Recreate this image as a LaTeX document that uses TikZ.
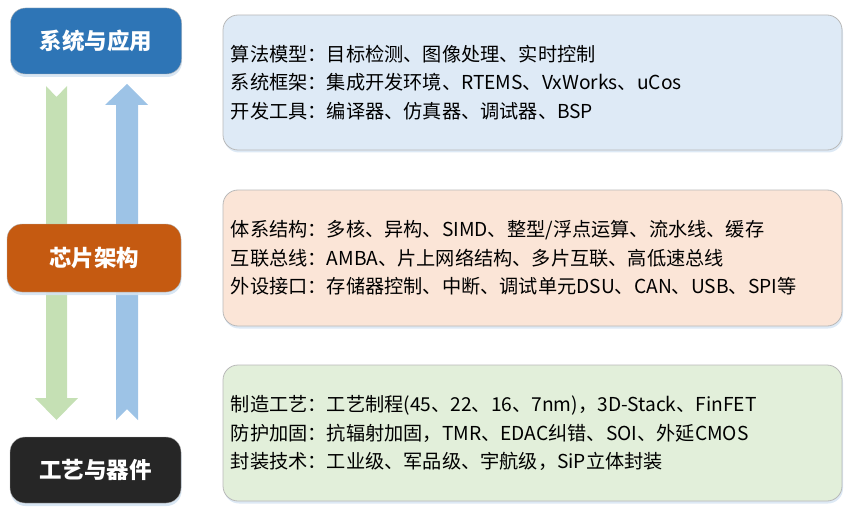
\documentclass[tikz,border=0pt]{standalone}
\usepackage{fontspec}
\newfontfamily\cjk{Noto Sans CJK SC}
\usetikzlibrary{shadows}
\definecolor{sysblue}{HTML}{2E75B6}
\definecolor{chiporange}{HTML}{C55A11}
\definecolor{procblack}{HTML}{262626}
\definecolor{arrowgreen}{HTML}{C5E0B4}
\definecolor{arrowblue}{HTML}{9DC3E6}
\definecolor{panelblue}{HTML}{DEEAF6}
\definecolor{panelorange}{HTML}{FBE5D7}
\definecolor{panelgreen}{HTML}{E2EFDA}
\definecolor{shadowblue}{HTML}{D4E3F2}
\tikzset{
  layer/.style={rectangle,rounded corners=15pt,minimum width=171pt,minimum height=66pt,text=white,
    font=\cjk\bfseries\fontsize{22.5}{26}\selectfont,draw=gray!60,line width=0.4pt,
    drop shadow={fill=shadowblue,opacity=0.9,shadow xshift=0.5pt,shadow yshift=-3pt}},
  panel/.style={rectangle,rounded corners=15pt,minimum width=619pt,minimum height=136pt,draw=gray!55,line width=0.8pt,
    drop shadow={fill=shadowblue,opacity=0.8,shadow xshift=1pt,shadow yshift=-2.5pt}},
  info/.style={anchor=west,align=left,inner sep=0pt,font=\cjk\fontsize{19.2}{28.3}\selectfont}
}
\begin{document}
\begin{tikzpicture}[x=1pt,y=-1pt]
    \useasboundingbox (0,0) rectangle (861,513);
    % arrows
    \fill[arrowgreen] (46,86) -- (56.5,97) -- (67,86) -- (67,398) -- (78,398) -- (56.5,420) -- (35,398) -- (46,398) -- cycle;
    \fill[arrowblue] (116,420) -- (127,409) -- (138,420) -- (138,105) -- (148,105) -- (127,84) -- (105,105) -- (116,105) -- cycle;
    % layers
    \node[layer,fill=sysblue] (node1) at (96,41) {系统与应用};
    \node[layer,fill=chiporange,minimum width=174pt,minimum height=68pt] (node2) at (94,258) {芯片架构};
    \node[layer,fill=procblack] (node3) at (95.5,470) {工艺与器件};
    % System & application
    \node[panel,fill=panelblue,minimum height=135pt] (node4) at (532.5,82.5) {};
    \node[info,xshift=8pt] (node7) at (node4.west) {算法模型：目标检测、图像处理、实时控制\\系统框架：集成开发环境、RTEMS、VxWorks、uCos\\开发工具：编译器、仿真器、调试器、BSP};
    % Chip architecture
    \node[panel,fill=panelorange] (node5) at (532.5,258) {};
    \node[info,xshift=8pt] (node8) at (node5.west) {体系结构：多核、异构、SIMD、整型/浮点运算、流水线、缓存\\互联总线：AMBA、片上网络结构、多片互联、高低速总线\\外设接口：存储器控制、中断、调试单元DSU、CAN、USB、SPI等};
    % Process & devices
    \node[panel,fill=panelgreen] (node6) at (532.5,433) {};
    \node[info,xshift=8pt] (node9) at (node6.west) {制造工艺：工艺制程(45、22、16、7nm)，3D-Stack、FinFET\\防护加固：抗辐射加固，TMR、EDAC纠错、SOI、外延CMOS\\封装技术：工业级、军品级、宇航级，SiP立体封装};
\end{tikzpicture}
\end{document}
